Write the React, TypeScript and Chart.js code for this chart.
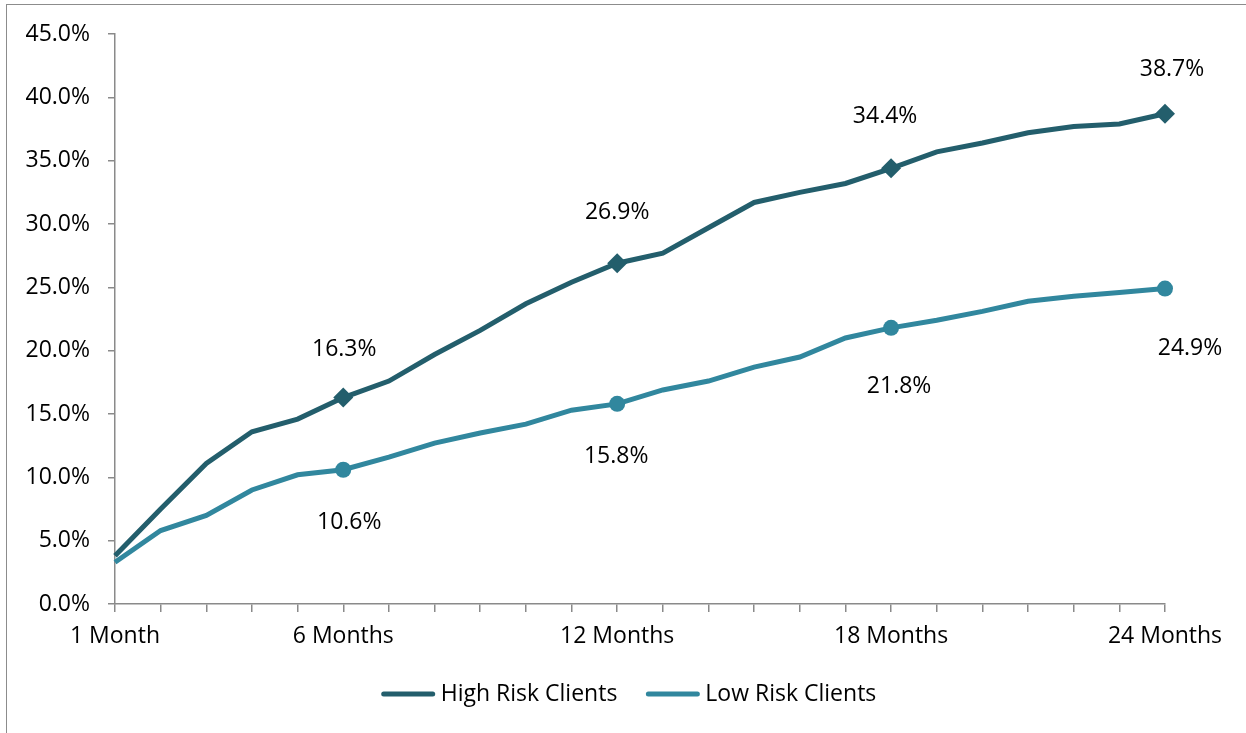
import React, { useEffect, useRef } from "react";
import { Chart, registerables } from "chart.js";

Chart.register(...registerables);

// Months since onboarding (x axis categories)
const months: number[] = Array.from({ length: 24 }, (_, i) => i + 1);
// Only these months get a visible tick label
const labelledMonths: number[] = [1, 6, 12, 18, 24];
// Months whose points carry a marker and a value label
const markedMonths: number[] = [6, 12, 18, 24];

// Cumulative rate (%) per month
const highRisk: number[] = [
  3.8, 7.5, 11.1, 13.6, 14.6, 16.3, 17.6, 19.7, 21.6, 23.7, 25.4, 26.9,
  27.7, 29.7, 31.7, 32.5, 33.2, 34.4, 35.7, 36.4, 37.2, 37.7, 37.9, 38.7,
];
const lowRisk: number[] = [
  3.3, 5.8, 7.0, 9.0, 10.2, 10.6, 11.6, 12.7, 13.5, 14.2, 15.3, 15.8,
  16.9, 17.6, 18.7, 19.5, 21.0, 21.8, 22.4, 23.1, 23.9, 24.3, 24.6, 24.9,
];

const yTicks: number[] = [0, 5, 10, 15, 20, 25, 30, 35, 40, 45];

const HIGH_COLOR = "#235E6C";
const LOW_COLOR = "#31879E";
const AXIS_COLOR = "#8A8A8A";
const FONT_FAMILY = "'Open Sans', sans-serif";
const FONT_SIZE = 23;

// Value-label nudges (dx, dy in px) for the marked points of each series
const highLabelOffsets: [number, number][] = [[1, -48], [0, -51], [-6, -52], [7, -44]];
const lowLabelOffsets: [number, number][] = [[6, 53], [-1, 53], [8, 59], [25, 60]];

const isMarked = (idx: number) => markedMonths.includes(months[idx]);

const valueLabels = {
  id: "valueLabels",
  afterDatasetsDraw(chart: any) {
    const ctx = chart.ctx;
    ctx.save();
    ctx.font = `${FONT_SIZE}px ${FONT_FAMILY}`;
    ctx.fillStyle = "#000";
    ctx.textAlign = "center";
    ctx.textBaseline = "middle";
    chart.data.datasets.forEach((ds: any, di: number) => {
      const meta = chart.getDatasetMeta(di);
      const offsets = di === 0 ? highLabelOffsets : lowLabelOffsets;
      let k = 0;
      ds.data.forEach((v: number, i: number) => {
        if (!isMarked(i)) return;
        const pt = meta.data[i];
        const [dx, dy] = offsets[k++] || [0, 0];
        ctx.fillText(`${v.toFixed(1)}%`, pt.x + dx, pt.y + dy);
      });
    });
    ctx.restore();
  },
};

const lineLegend = {
  id: "lineLegend",
  afterDraw(chart: any) {
    const ctx = chart.ctx;
    ctx.save();
    ctx.font = `${FONT_SIZE}px ${FONT_FAMILY}`;
    ctx.textBaseline = "middle";
    const y = 694;
    const lineLen = 53;
    const gap = 6;
    const itemGap = 29;
    const items = chart.data.datasets.map((ds: any) => ({
      text: ds.label,
      color: ds.borderColor,
      w: lineLen + gap + ctx.measureText(ds.label).width,
    }));
    const total = items.reduce((s: number, it: any) => s + it.w, 0) + itemGap * (items.length - 1);
    let x = (chart.width - total) / 2 + 6;
    items.forEach((it: any) => {
      ctx.strokeStyle = it.color;
      ctx.lineWidth = 5;
      ctx.lineCap = "round";
      ctx.beginPath();
      ctx.moveTo(x + 2, y);
      ctx.lineTo(x + lineLen - 2, y);
      ctx.stroke();
      ctx.fillStyle = "#000";
      ctx.textAlign = "left";
      ctx.fillText(it.text, x + lineLen + gap, y);
      x += it.w + itemGap;
    });
    ctx.restore();
  },
};

export default function App() {
  const canvasRef = useRef<HTMLCanvasElement | null>(null);

  useEffect(() => {
    if (!canvasRef.current) return;
    const chart = new Chart(canvasRef.current, {
      type: "line",
      data: {
        labels: months.map((m) => (m === 1 ? "1 Month" : `${m} Months`)),
        datasets: [
          {
            label: "High Risk Clients",
            data: highRisk,
            borderColor: HIGH_COLOR,
            backgroundColor: HIGH_COLOR,
            borderWidth: 5,
            tension: 0,
            pointStyle: "rectRot",
            pointRadius: (c: any) => (isMarked(c.dataIndex) ? 10 : 0),
            pointHoverRadius: (c: any) => (isMarked(c.dataIndex) ? 10 : 0),
            pointBorderWidth: 0,
          },
          {
            label: "Low Risk Clients",
            data: lowRisk,
            borderColor: LOW_COLOR,
            backgroundColor: LOW_COLOR,
            borderWidth: 5,
            tension: 0,
            pointStyle: "circle",
            pointRadius: (c: any) => (isMarked(c.dataIndex) ? 8 : 0),
            pointHoverRadius: (c: any) => (isMarked(c.dataIndex) ? 8 : 0),
            pointBorderWidth: 0,
          },
        ],
      },
      options: {
        animation: false,
        responsive: false,
        maintainAspectRatio: false,
        layout: { padding: { top: 34, right: 81, bottom: 79, left: 0 } },
        plugins: {
          legend: { display: false },
          tooltip: { enabled: false },
        },
        scales: {
          x: {
            type: "category",
            offset: false,
            afterFit: (s: any) => {
              s.height = 50;
            },
            grid: {
              drawOnChartArea: false,
              drawTicks: true,
              tickLength: 8,
              color: AXIS_COLOR,
              lineWidth: 1.5,
            },
            border: { color: AXIS_COLOR, width: 1.5 },
            ticks: {
              autoSkip: false,
              maxRotation: 0,
              padding: 11,
              color: "#000",
              font: { family: FONT_FAMILY, size: FONT_SIZE },
              callback: function (this: any, _v: any, idx: number) {
                return labelledMonths.includes(months[idx]) ? this.getLabelForValue(idx) : "";
              },
            },
          },
          y: {
            min: yTicks[0],
            max: yTicks[yTicks.length - 1],
            afterFit: (s: any) => {
              s.width = 115;
            },
            afterBuildTicks: (s: any) => {
              s.ticks = yTicks.map((v) => ({ value: v }));
            },
            grid: {
              drawOnChartArea: false,
              drawTicks: true,
              tickLength: 7,
              color: AXIS_COLOR,
              lineWidth: 1.5,
            },
            border: { color: AXIS_COLOR, width: 1.5 },
            ticks: {
              padding: 18,
              color: "#000",
              font: { family: FONT_FAMILY, size: FONT_SIZE },
              callback: (v: any) => `${Number(v).toFixed(1)}%`,
            },
          },
        },
      },
      plugins: [valueLabels, lineLegend],
    });
    return () => chart.destroy();
  }, []);

  return (
    <div
      style={{
        position: "absolute",
        left: 0,
        top: 0,
        width: 1246,
        height: 733,
        background: "#fff",
        overflow: "hidden",
      }}
    >
      <div
        style={{
          position: "absolute",
          left: 6,
          top: 4,
          width: 1300,
          height: 800,
          border: "1.5px solid #8C8C8C",
          boxSizing: "border-box",
        }}
      />
      <canvas
        ref={canvasRef}
        width={1246}
        height={733}
        style={{ position: "absolute", left: 0, top: 0, width: 1246, height: 733 }}
      />
    </div>
  );
}
